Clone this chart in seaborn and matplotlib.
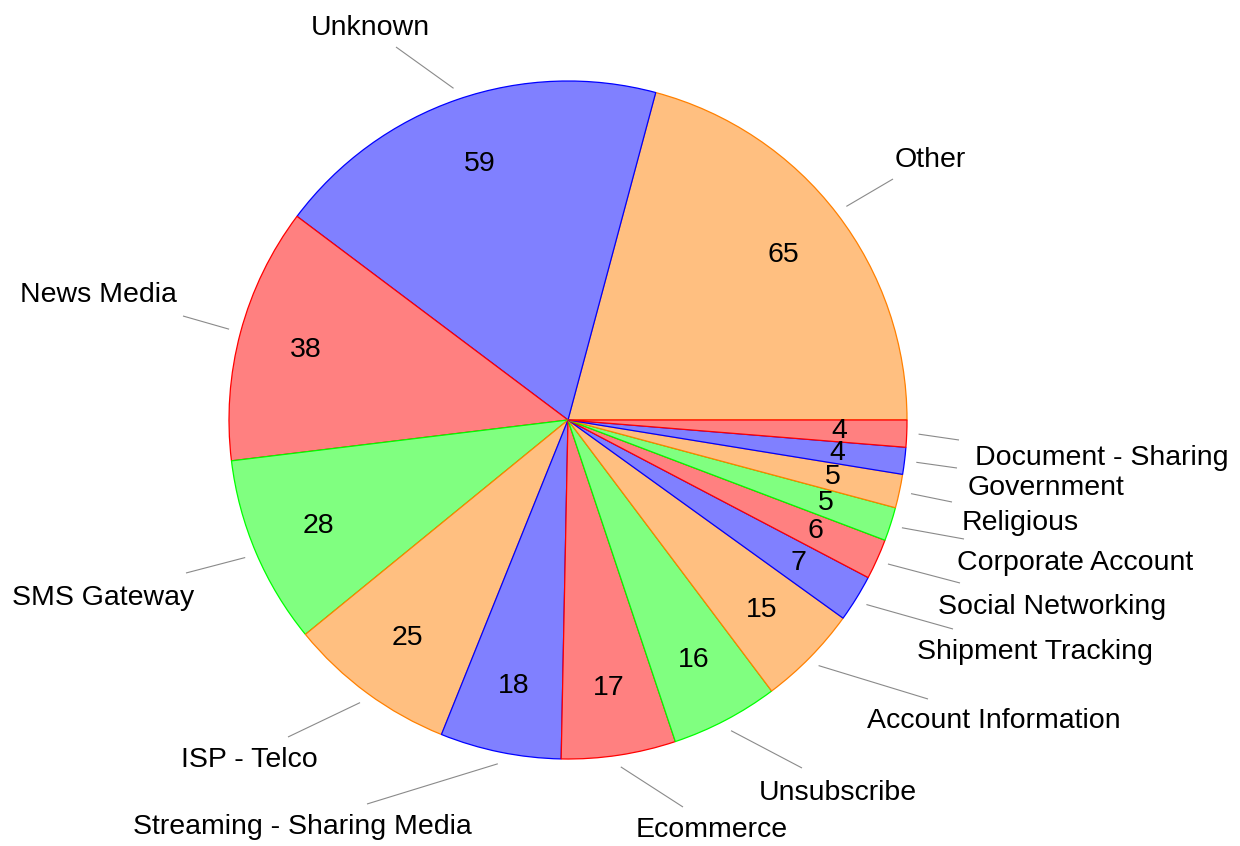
import numpy as np
import matplotlib
matplotlib.use("Agg")
import matplotlib.pyplot as plt
import seaborn as sns

# ---- data ----
categories = ["Other", "Unknown", "News Media", "SMS Gateway", "ISP - Telco",
              "Streaming - Sharing Media", "Ecommerce", "Unsubscribe",
              "Account Information", "Shipment Tracking", "Social Networking",
              "Corporate Account", "Religious", "Government", "Document - Sharing"]
values = [65, 59, 38, 28, 25, 18, 17, 16, 15, 7, 6, 5, 5, 4, 4]

# ---- style ----
fill_cycle = ["#FFBF80", "#8080FF", "#FF8080", "#80FF80"]
edge_cycle = ["#FF8000", "#0000FF", "#FF0000", "#00FF00"]

# label layout in figure pixels (text centre, pin end)
label_xy = [(930, 160), (370, 28), (98, 295), (103, 598), (249, 760),
            (302, 827), (712, 830), (838, 793), (994, 721), (1035, 652),
            (1052, 607), (1075, 563), (1020, 523), (1046, 488), (1102, 458)]
pin_end = [(893, 179), (396, 47), (183, 316), (186, 573), (288, 737),
           (367, 804), (683, 807), (802, 768), (928, 699), (953, 629),
           (960, 583), (964, 539), (952, 502), (957, 468), (959, 440)]

W, H = 1240, 846
CX, CY, R = 568, 420, 339


def to_data(p):
    return ((p[0] - CX) / R, (CY - p[1]) / R)


sns.set_theme(style="white")
plt.rcParams["font.family"] = ["Liberation Sans", "DejaVu Sans"]

fig = plt.figure(figsize=(W / 100, H / 100), dpi=100)
ax = fig.add_axes([0, 0, 1, 1])

n = len(values)
fills = [fill_cycle[i % 4] for i in range(n)]
edges = [edge_cycle[i % 4] for i in range(n)]

wedges, _ = ax.pie(values, colors=fills, startangle=0, counterclock=True,
                   radius=1.0, wedgeprops=dict(linewidth=0.9))
for w, ec in zip(wedges, edges):
    w.set_edgecolor(ec)

total = float(sum(values))
cum = np.cumsum([0] + values)
fs = 20.5
for i, (cat, v) in enumerate(zip(categories, values)):
    mid = np.deg2rad((cum[i] + v / 2.0) / total * 360.0)
    ax.text(0.8 * np.cos(mid), 0.8 * np.sin(mid), str(v), ha="center",
            va="center", fontsize=fs, color="black")
    sx, sy = 1.035 * np.cos(mid), 1.035 * np.sin(mid)
    ex, ey = to_data(pin_end[i])
    ax.plot([sx, ex], [sy, ey], color="#8a8a8a", lw=0.8, solid_capstyle="butt")
    tx, ty = to_data(label_xy[i])
    ax.text(tx, ty, cat, ha="center", va="center", fontsize=fs, color="black")

ax.set_xlim(-CX / R, (W - CX) / R)
ax.set_ylim(-(H - CY) / R, CY / R)
ax.set_aspect("equal", adjustable="box")
ax.axis("off")

fig.savefig("out.png", dpi=100, facecolor="white")
